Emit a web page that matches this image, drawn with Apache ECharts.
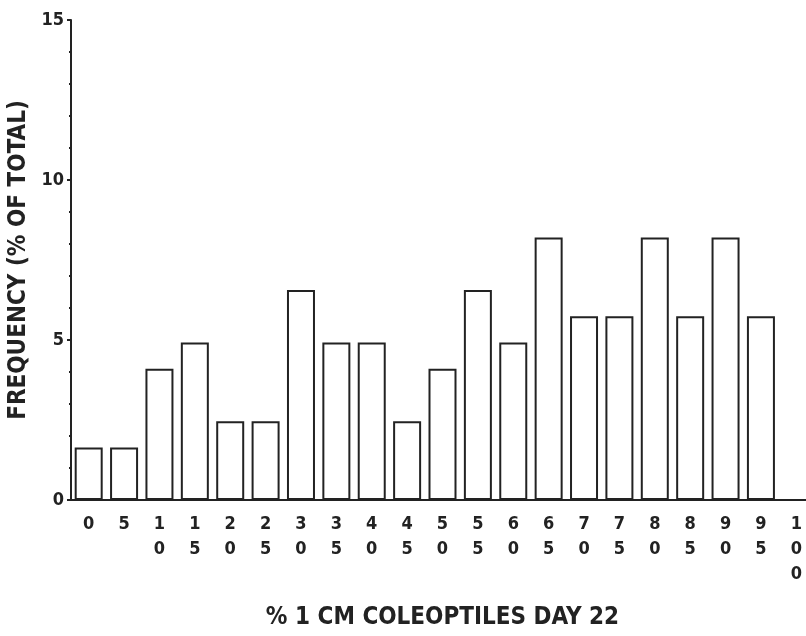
<!DOCTYPE html>
<html>
<head>
<meta charset="utf-8">
<script src="https://cdn.jsdelivr.net/npm/echarts@6/dist/echarts.min.js"></script>
<style>
  html, body { margin: 0; padding: 0; background: #fff; }
  #chart { width: 806px; height: 636px; }
</style>
</head>
<body>
<div id="chart"></div>
<script>
// class bins (% 1 cm coleoptiles) and frequency (% of total)
var bins = ['0', '5', '10', '15', '20', '25', '30', '35', '40', '45', '50',
            '55', '60', '65', '70', '75', '80', '85', '90', '95', '100'];
var freq = [1.64, 1.64, 4.10, 4.92, 2.46, 2.46, 6.56, 4.92, 4.92, 2.46, 4.10,
            6.56, 4.92, 8.20, 5.74, 5.74, 8.20, 5.74, 8.20, 5.74, null];
var yTicks = [0, 5, 10, 15];

var font = 'DejaVu Sans Condensed';
var ink = '#222';

var chart = echarts.init(document.getElementById('chart'));
chart.setOption({
    animation: false,
    grid: { left: 71, top: 20, width: 743, height: 480, outerBoundsMode: 'none' },
    xAxis: {
        type: 'category',
        data: bins,
        name: '% 1 CM COLEOPTILES DAY 22',
        nameLocation: 'middle',
        nameGap: 106,
        nameTextStyle: { fontFamily: font, fontWeight: 'bold', fontSize: 24, color: ink },
        axisLine: { lineStyle: { color: ink, width: 2 } },
        axisTick: { show: false },
        axisLabel: {
            interval: 0,
            margin: 12,
            fontFamily: font,
            fontWeight: 'bold',
            fontSize: 18,
            lineHeight: 25,
            color: ink,
            // each digit on its own line
            formatter: function (v) { return v.split('').join('\n'); }
        }
    },
    yAxis: {
        type: 'value',
        min: yTicks[0],
        max: yTicks[yTicks.length - 1],
        interval: 5,
        name: 'FREQUENCY (% OF TOTAL)',
        nameLocation: 'middle',
        nameGap: 32,
        nameTextStyle: { fontFamily: font, fontWeight: 'bold', fontSize: 24, color: ink },
        axisLine: { show: true, lineStyle: { color: ink, width: 2 } },
        axisTick: { show: true, length: 4, lineStyle: { color: ink, width: 2 } },
        minorTick: { show: true, splitNumber: 5, length: 2, lineStyle: { color: ink, width: 2 } },
        splitLine: { show: false },
        axisLabel: { margin: 7, fontFamily: font, fontWeight: 'bold', fontSize: 18, color: ink }
    },
    series: [{
        type: 'bar',
        data: freq,
        barWidth: 28,
        itemStyle: { color: '#fff', borderColor: ink, borderWidth: 2 }
    }]
});
</script>
</body>
</html>
